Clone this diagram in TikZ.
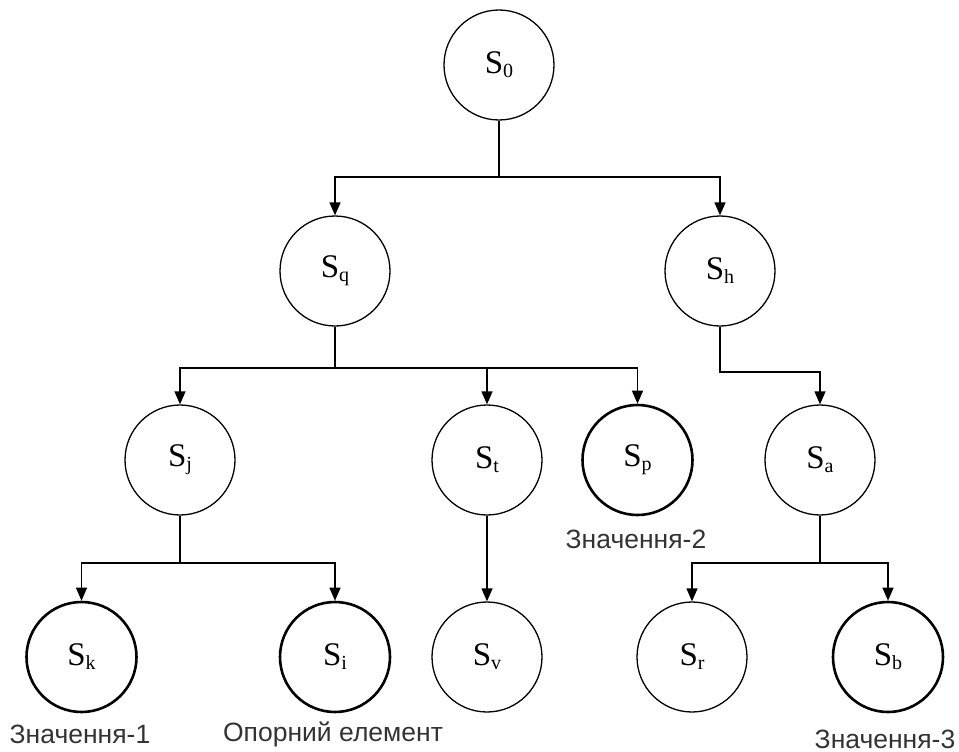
\documentclass[tikz,border=0pt]{standalone}
\usepackage{fontspec}
\setmainfont{Liberation Serif}
\newfontfamily\labfont{Liberation Sans}
\usetikzlibrary{arrows.meta}
\newcommand{\Sn}[1]{\fontsize{33}{36}\selectfont S\raisebox{-4pt}{\fontsize{20}{20}\selectfont #1}}
\tikzset{
  st/.style={circle, draw, line width=1.3pt, minimum size=110pt, inner sep=0pt},
  stbold/.style={st, line width=2.6pt},
  arr/.style={line width=1.3pt, -{Triangle[length=13pt,width=11pt]}},
  ln/.style={line width=1.3pt},
  lab/.style={font=\labfont\fontsize{26.5}{29}\selectfont, inner sep=0pt, text=black!80}
}
\begin{document}
\begin{tikzpicture}[x=1pt,y=-1pt]
\useasboundingbox (0,0) rectangle (959,752);
\node[st] (S0) at (499,65) {\Sn{0}};
\node[st] (Sq) at (335,271) {\Sn{q}};
\node[st] (Sh) at (720,271) {\Sn{h}};
\node[st] (Sj) at (180,460) {\Sn{j}};
\node[st] (St) at (487,460) {\Sn{t}};
\node[stbold] (Sp) at (637.5,460) {\Sn{p}};
\node[st] (Sa) at (820,460) {\Sn{a}};
\node[stbold] (Sk) at (81.5,657) {\Sn{k}};
\node[stbold] (Si) at (335,657) {\Sn{i}};
\node[st] (Sv) at (487,657) {\Sn{v}};
\node[st] (Sr) at (692,657) {\Sn{r}};
\node[stbold] (Sb) at (888,657) {\Sn{b}};
\node[lab] (L2) at (636,539) {Значення-2};
\node[lab] (L1) at (80,734) {Значення-1};
\node[lab] (L0) at (333,734) {Опорний елемент};
\node[lab] (L3) at (885,739) {Значення-3};
\coordinate (b0) at (499,177);
\coordinate (bq) at (335,368);
\coordinate (bh) at (720,372);
\coordinate (bj) at (180,563);
\coordinate (ba) at (820,563);
\draw[ln] (S0.south) -- (b0);
\draw[arr] (b0) -| (Sq.north);
\draw[arr] (b0) -| (Sh.north);
\draw[ln] (Sq.south) -- (bq);
\draw[arr] (bq) -| (Sj.north);
\draw[arr] (bq) -| (St.north);
\draw[arr] (bq) -| (Sp.north);
\draw[arr] (Sh.south) -- (bh) -| (Sa.north);
\draw[ln] (Sj.south) -- (bj);
\draw[arr] (bj) -| (Sk.north);
\draw[arr] (bj) -| (Si.north);
\draw[arr] (St.south) -- (Sv.north);
\draw[ln] (Sa.south) -- (ba);
\draw[arr] (ba) -| (Sr.north);
\draw[arr] (ba) -| (Sb.north);
\end{tikzpicture}
\end{document}
